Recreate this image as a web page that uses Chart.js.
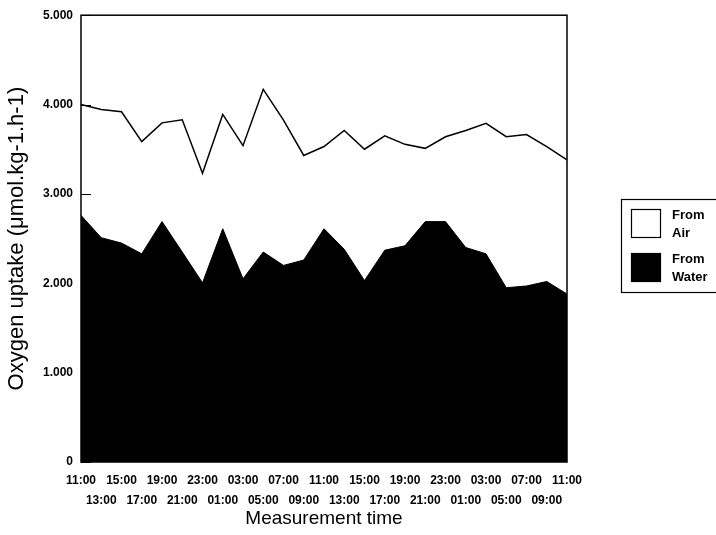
<!DOCTYPE html>
<html>
<head>
<meta charset="utf-8">
<script src="https://cdn.jsdelivr.net/npm/chart.js@4/dist/chart.umd.min.js"></script>
<style>
  html, body { margin: 0; padding: 0; background: #fff; }
  #wrap { width: 716px; height: 535px; position: relative; }
</style>
</head>
<body>
<div id="wrap"><canvas id="chart"></canvas></div>
<script>
// Oxygen uptake, stacked area: water at the bottom, air on top

const timeLabels = [
  '11:00','13:00','15:00','17:00','19:00','21:00','23:00','01:00','03:00','05:00','07:00','09:00',
  '11:00','13:00','15:00','17:00','19:00','21:00','23:00','01:00','03:00','05:00','07:00','09:00',
  '11:00'
];
const fromWater = [2760,2510,2450,2330,2690,2350,2005,2610,2050,2350,2200,2260,2610,2380,2030,2370,2420,2690,2690,2400,2330,1950,1970,2020,1880];
const fromAir   = [1240,1435,1470,1255,1105,1480,1225,1280,1490,1820,1625,1170,920,1330,1470,1280,1135,820,950,1310,1460,1690,1695,1510,1500];
const yTicks = [0,1000,2000,3000,4000,5000];

const FONT = '"Liberation Sans", Arial, sans-serif';

const fmtTick = v => v === 0 ? '0' : (v / 1000).toFixed(3);

// box around plot + short inward ticks on the y axis
const frame = {
  id: 'frame',
  afterDatasetsDraw(chart){
    const {ctx, chartArea: a, scales: {y}} = chart;
    ctx.save();
    ctx.strokeStyle = '#000';
    ctx.lineWidth = 1.5;
    ctx.strokeRect(a.left, a.top, a.right - a.left, a.bottom - a.top);
    ctx.lineWidth = 1;
    yTicks.forEach(v => {
      const py = Math.round(y.getPixelForValue(v)) + 0.5;
      ctx.beginPath();
      ctx.moveTo(a.left, py);
      ctx.lineTo(a.left + 10, py);
      ctx.stroke();
    });
    ctx.restore();
  }
};

// legend box on the right, air listed first
const sideLegend = {
  id: 'sideLegend',
  afterDraw(chart){
    const {ctx} = chart;
    const ds = chart.data.datasets.slice().reverse();
    ctx.save();
    ctx.strokeStyle = '#000';
    ctx.lineWidth = 1.2;
    ctx.strokeRect(621.5, 199.5, 110, 93);
    ctx.font = 'bold 13px ' + FONT;
    ctx.fillStyle = '#000';
    ctx.textBaseline = 'middle';
    ds.forEach((d, i) => {
      const top = 209 + i * 44;
      ctx.fillStyle = d.backgroundColor;
      ctx.fillRect(631, top, 30, 29);
      ctx.strokeRect(631.5, top + 0.5, 29, 28);
      ctx.fillStyle = '#000';
      const words = d.label.split(' ');
      ctx.fillText(words[0], 672, top + 6);
      ctx.fillText(words[1], 672, top + 24);
    });
    ctx.restore();
  }
};

const ctx = document.getElementById('chart').getContext('2d');
new Chart(ctx, {
  type: 'line',
  data: {
    labels: timeLabels,
    datasets: [
      {
        label: 'From Water',
        data: fromWater,
        backgroundColor: '#000',
        borderColor: '#000',
        borderWidth: 1,
        fill: 'origin',
        pointRadius: 0,
        tension: 0
      },
      {
        label: 'From Air',
        data: fromAir,
        backgroundColor: '#fff',
        borderColor: '#000',
        borderWidth: 1.5,
        fill: '-1',
        pointRadius: 0,
        tension: 0
      }
    ]
  },
  options: {
    responsive: true,
    maintainAspectRatio: false,
    animation: false,
    layout: {padding: {top: 15, right: 149, bottom: 0, left: 0}},
    plugins: {
      legend: {display: false},
      tooltip: {enabled: false}
    },
    scales: {
      x: {
        offset: false,
        grid: {display: false, drawTicks: false},
        border: {display: false},
        ticks: {
          autoSkip: false,
          maxRotation: 0,
          padding: 9,
          color: '#000',
          font: {family: FONT, size: 12, weight: 'bold', lineHeight: 1.65},
          callback: (v, i) => i % 2 === 0 ? timeLabels[i] : ['', timeLabels[i]]
        },
        title: {
          display: true,
          text: 'Measurement time',
          color: '#000',
          font: {family: FONT, size: 19},
          padding: {top: 2, bottom: 5}
        },
        afterFit: s => { s.height = 73; }
      },
      y: {
        stacked: true,
        min: 0,
        max: 5000,
        grid: {display: false, drawTicks: false},
        border: {display: false},
        afterBuildTicks: s => { s.ticks = yTicks.map(v => ({value: v})); },
        ticks: {
          padding: 8,
          color: '#000',
          font: {family: FONT, size: 12, weight: 'bold'},
          callback: v => fmtTick(v)
        },
        title: {
          display: true,
          text: 'Oxygen uptake (\u03bcmol.kg-1.h-1)',
          color: '#000',
          font: {family: FONT, size: 22},
          padding: {top: 4, bottom: 4}
        },
        afterFit: s => { s.width = 81; }
      }
    }
  },
  plugins: [frame, sideLegend]
});
</script>
</body>
</html>
